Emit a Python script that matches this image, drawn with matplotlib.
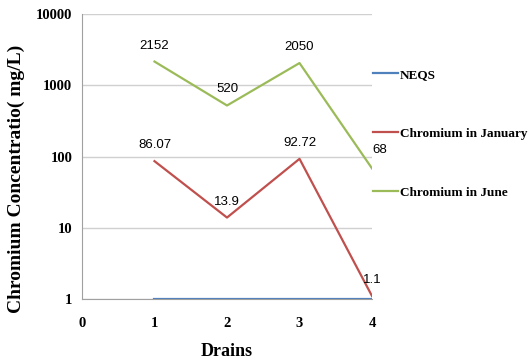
import numpy as np
import matplotlib.pyplot as plt
from matplotlib.ticker import FixedLocator, FixedFormatter, NullLocator

# data
drains = [1, 2, 3, 4]
neqs = [1, 1, 1, 1]
chromium_jan = [86.07, 13.9, 92.72, 1.1]
chromium_jun = [2152, 520, 2050, 68]
jan_labels = ["86.07", "13.9", "92.72", "1.1"]
jun_labels = ["2152", "520", "2050", "68"]
y_ticks = [1, 10, 100, 1000, 10000]
x_ticks = [0, 1, 2, 3, 4]

serif = "Liberation Serif"
sans = "Liberation Sans"

fig = plt.figure(figsize=(5.31, 3.64), dpi=100)
ax = fig.add_axes([0.1544, 0.1786, 0.5462, 0.7829])

ax.plot(drains, neqs, color="#4F81BD", lw=1.6, label="NEQS")
ax.plot(drains, chromium_jan, color="#C0504D", lw=1.6, label="Chromium in January")
ax.plot(drains, chromium_jun, color="#9BBB59", lw=1.6, label="Chromium in June")

ax.set_yscale("log")
ax.set_ylim(1, 10000)
ax.set_xlim(0, 4)
ax.yaxis.set_major_locator(FixedLocator(y_ticks))
ax.yaxis.set_major_formatter(FixedFormatter([str(t) for t in y_ticks]))
ax.yaxis.set_minor_locator(NullLocator())
ax.set_xticks(x_ticks)
ax.grid(axis="y", color="#d0d0d0", lw=1)
ax.set_axisbelow(True)

for s in ["top", "right"]:
    ax.spines[s].set_visible(False)
for s in ["left", "bottom"]:
    ax.spines[s].set_color("#a0a0a0")
ax.tick_params(axis="both", length=0)
ax.tick_params(axis="y", pad=7)
ax.tick_params(axis="x", pad=13)
for lab in ax.get_xticklabels() + ax.get_yticklabels():
    lab.set_fontfamily(serif)
    lab.set_fontweight("bold")
    lab.set_fontsize(10.5)

# data labels
for x, y, t in zip(drains, chromium_jun, jun_labels):
    off = (8, 18) if x == 4 else (0, 16)
    ax.annotate(t, (x, y), xytext=off, textcoords="offset pixels",
                ha="center", va="center", fontsize=9.5, family=sans)
for x, y, t in zip(drains, chromium_jan, jan_labels):
    ax.annotate(t, (x, y), xytext=(0, 16), textcoords="offset pixels",
                ha="center", va="center", fontsize=9.5, family=sans)

ax.set_ylabel("Chromium Concentratio( mg/L)", family=serif, fontweight="bold",
              fontsize=14, va="center")
ax.yaxis.set_label_coords(-0.225, 0.42)
ax.set_xlabel("Drains", family=serif, fontweight="bold", fontsize=13, va="center")
ax.xaxis.set_label_coords(0.5, -0.186)

leg = fig.legend(loc="upper left", bbox_to_anchor=(0.703, 0.812), frameon=False,
                 prop={"family": serif, "weight": "bold", "size": 9.5},
                 handlelength=1.9, handletextpad=0.1, labelspacing=3.55,
                 borderpad=0, borderaxespad=0)

fig.savefig("out.png", dpi=100)
